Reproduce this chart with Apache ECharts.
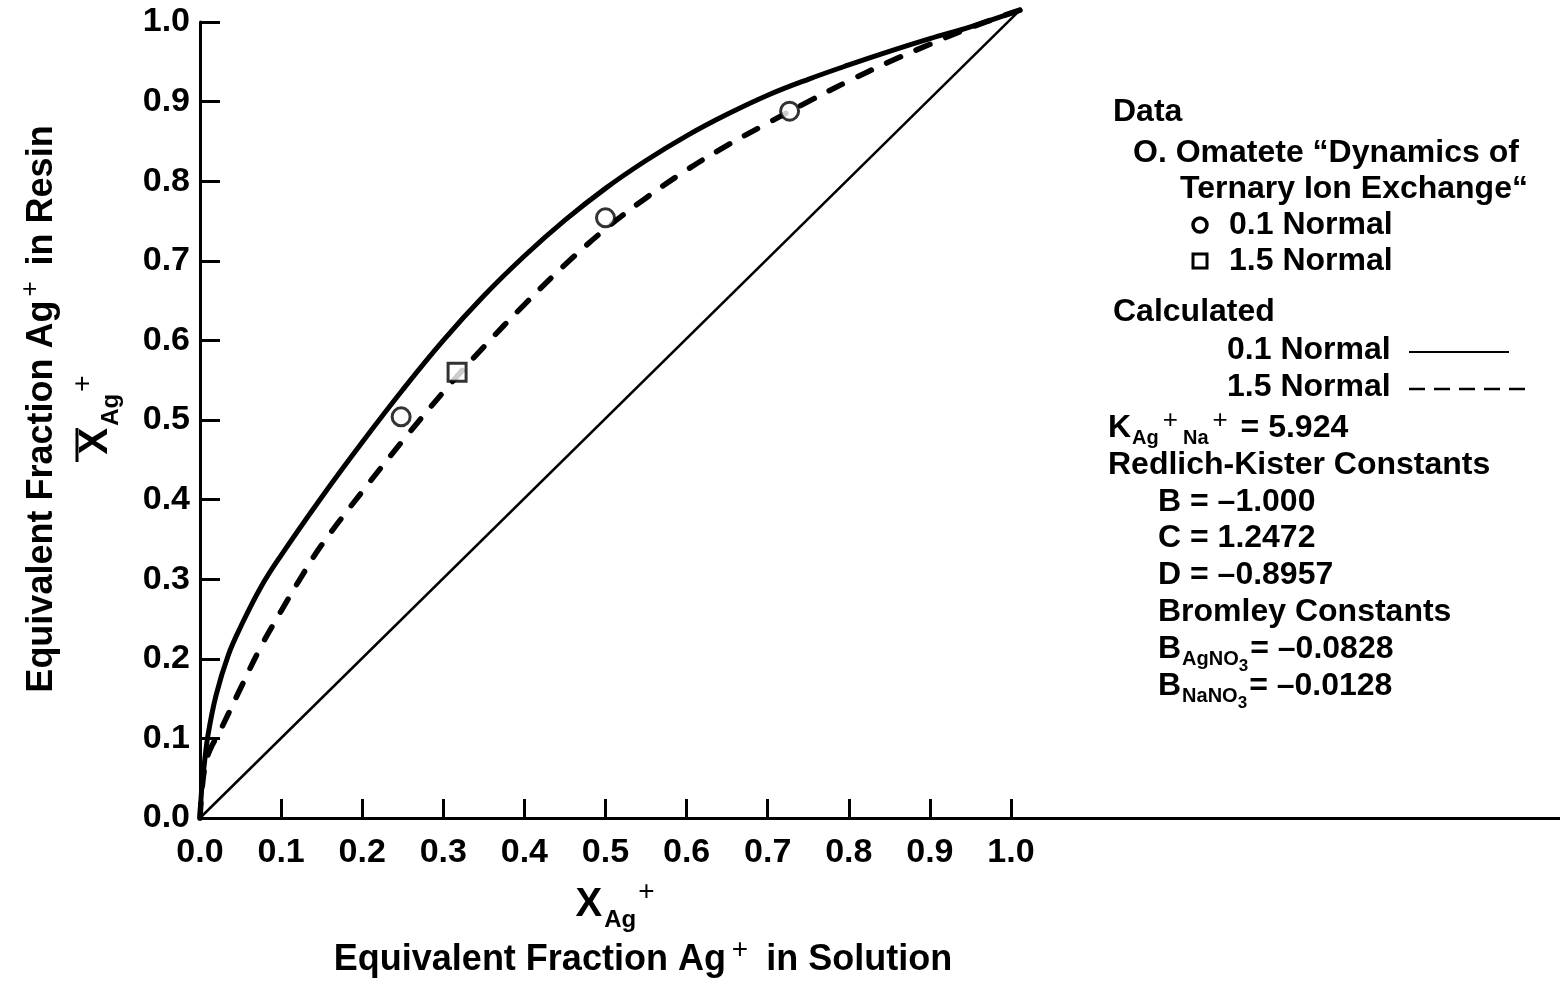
<!DOCTYPE html>
<html><head><meta charset="utf-8">
<script src="https://cdn.jsdelivr.net/npm/echarts@6/dist/echarts.min.js"></script>
<style>html,body{margin:0;padding:0;background:#fff}#c{width:1560px;height:983px}</style>
</head><body><div id="c"></div>
<script>
// ---- data ----
const xTickValues = [0.1,0.2,0.3,0.4,0.5,0.6,0.7,0.8,0.9,1.0];
const xLabelValues = [0.0,0.1,0.2,0.3,0.4,0.5,0.6,0.7,0.8,0.9,1.0];
const yTickValues = [0.1,0.2,0.3,0.4,0.5,0.6,0.7,0.8,0.9,1.0];

// Calculated 0.1 Normal (solid)
const solidX = [0, 0.002, 0.005, 0.010, 0.020, 0.035, 0.050, 0.075, 0.100, 0.150, 0.200, 0.250, 0.300, 0.350, 0.400, 0.450, 0.500, 0.550, 0.600, 0.650, 0.700, 0.750, 0.800, 0.850, 0.900, 0.950, 1.011];
const solidY = [0, 0.035, 0.065, 0.105, 0.155, 0.205, 0.240, 0.290, 0.330, 0.403, 0.472, 0.538, 0.600, 0.656, 0.706, 0.751, 0.791, 0.826, 0.857, 0.884, 0.908, 0.928, 0.946, 0.963, 0.979, 0.994, 1.015];
// Calculated 1.5 Normal (dashed)
const dashX = [0, 0.002, 0.006, 0.012, 0.025, 0.050, 0.075, 0.100, 0.125, 0.150, 0.200, 0.250, 0.300, 0.350, 0.400, 0.450, 0.500, 0.550, 0.600, 0.650, 0.700, 0.750, 0.800, 0.850, 0.900, 0.950, 1.011];
const dashY = [0, 0.030, 0.064, 0.085, 0.110, 0.163, 0.215, 0.260, 0.303, 0.343, 0.410, 0.474, 0.535, 0.592, 0.645, 0.695, 0.740, 0.779, 0.814, 0.845, 0.873, 0.900, 0.926, 0.950, 0.972, 0.993, 1.015];
// Diagonal reference
const diagX = [0, 1.011];
const diagY = [0, 1.015];
// Data, 0.1 Normal (circles)
const circleX = [0.248, 0.500, 0.727];
const circleY = [0.504, 0.754, 0.888];
// Data, 1.5 Normal (squares)
const squareX = [0.317];
const squareY = [0.560];

const zip = (a, b) => a.map((v, i) => [v, b[i]]);
const FF = "'Liberation Sans', Arial, Helvetica, sans-serif";

const chart = echarts.init(document.getElementById('c'), null, {renderer: 'canvas'});

const legendFont = {fontFamily: FF, fontWeight: 'bold', fontSize: 32, fill: '#000'};
function txt(x, y, text, extra) {
  return {type: 'text', x: x, y: y, style: Object.assign({}, legendFont, {text: text, verticalAlign: 'middle', align: 'left'}, extra || {})};
}
const richBase = {
  m: {fontFamily: FF, fontWeight: 'bold', fontSize: 32, lineHeight: 40, verticalAlign: 'middle', color: '#000'},
  sb: {fontFamily: FF, fontWeight: 'bold', fontSize: 20, verticalAlign: 'bottom', color: '#000', padding: [0, 0, 0, 1]},
  sb3: {fontFamily: FF, fontWeight: 'bold', fontSize: 17, verticalAlign: 'bottom', color: '#000', padding: [0, 2, -6, 0]},
  sp: {fontFamily: FF, fontWeight: 'normal', fontSize: 26, verticalAlign: 'top', color: '#000', padding: [0, 4, 0, 4]}
};

const option = {
  backgroundColor: '#fff',
  animation: false,
  grid: {left: 200, right: 0, top: 22, bottom: 165, containLabel: false},
  xAxis: {
    type: 'value', min: 0, max: 1360 / 811,
    axisLine: {show: true, lineStyle: {color: '#000', width: 3}},
    axisTick: {show: true, inside: true, length: 19, customValues: xTickValues, lineStyle: {color: '#000', width: 3}},
    axisLabel: {show: true, customValues: xLabelValues, margin: 18, color: '#000', fontFamily: FF, fontWeight: 'bold', fontSize: 34,
      formatter: v => Number(v).toFixed(1)},
    splitLine: {show: false}
  },
  yAxis: {
    type: 'value', min: 0, max: 1, interval: 0.1,
    axisLine: {show: true, lineStyle: {color: '#000', width: 3}},
    axisTick: {show: true, inside: true, length: 20, customValues: yTickValues, lineStyle: {color: '#000', width: 3}},
    axisLabel: {show: true, margin: 10, color: '#000', fontFamily: FF, fontWeight: 'bold', fontSize: 34,
      formatter: v => Number(v).toFixed(1)},
    splitLine: {show: false}
  },
  series: [
    {name: 'diag', type: 'line', data: zip(diagX, diagY), symbol: 'none', clip: false,
      lineStyle: {color: '#000', width: 2.5}},
    {name: '0.1 Normal calc', type: 'line', data: zip(solidX, solidY), symbol: 'none', smooth: 0.4, clip: false,
      lineStyle: {color: '#000', width: 5, cap: 'round', join: 'round'}},
    {name: '1.5 Normal calc', type: 'line', data: zip(dashX, dashY), symbol: 'none', smooth: 0.4, clip: false,
      lineStyle: {color: '#000', width: 5.5, type: [15, 17], cap: 'round', join: 'round'}},
    {name: '0.1 Normal data', type: 'scatter', data: zip(circleX, circleY), symbol: 'circle', symbolSize: 18, z: 5,
      itemStyle: {color: '#fff', borderColor: '#000', borderWidth: 3}},
    {name: '1.5 Normal data', type: 'scatter', data: zip(squareX, squareY), symbol: 'rect', symbolSize: 18, z: 5,
      itemStyle: {color: '#fff', borderColor: '#000', borderWidth: 3}}
  ],
  graphic: [
    // Y axis title
    {type: 'text', x: 42, y: 409, rotation: Math.PI / 2,
      style: {text: '{m|Equivalent Fraction Ag}{sp|+}{m| in Resin}', align: 'center', verticalAlign: 'middle',
        rich: {
          m: {fontFamily: FF, fontWeight: 'bold', fontSize: 36, lineHeight: 48, verticalAlign: 'middle', color: '#000'},
          sp: {fontFamily: FF, fontWeight: 'normal', fontSize: 26, verticalAlign: 'top', color: '#000', padding: [0, 6, 0, 4]}
        }}},
    {type: 'text', x: 96, y: 415, rotation: Math.PI / 2,
      style: {text: '{x|X}{sb|Ag}{sp|+}', align: 'center', verticalAlign: 'middle',
        rich: {
          x: {fontFamily: FF, fontWeight: 'bold', fontSize: 40, lineHeight: 54, verticalAlign: 'middle', color: '#000'},
          sb: {fontFamily: FF, fontWeight: 'bold', fontSize: 24, verticalAlign: 'bottom', color: '#000', padding: [0, 0, 0, 2]},
          sp: {fontFamily: FF, fontWeight: 'normal', fontSize: 28, verticalAlign: 'top', color: '#000', padding: [0, 0, 0, 2]}
        }}},
    {type: 'line', shape: {x1: 77, y1: 428, x2: 77, y2: 462}, style: {stroke: '#000', lineWidth: 3}},
    // X axis title
    {type: 'text', x: 615, y: 905,
      style: {text: '{x|X}{sb|Ag}{sp|+}', align: 'center', verticalAlign: 'middle',
        rich: {
          x: {fontFamily: FF, fontWeight: 'bold', fontSize: 40, lineHeight: 54, verticalAlign: 'middle', color: '#000'},
          sb: {fontFamily: FF, fontWeight: 'bold', fontSize: 24, verticalAlign: 'bottom', color: '#000', padding: [0, 0, 0, 2]},
          sp: {fontFamily: FF, fontWeight: 'normal', fontSize: 28, verticalAlign: 'top', color: '#000', padding: [0, 0, 0, 2]}
        }}},
    {type: 'text', x: 643, y: 960,
      style: {text: '{m|Equivalent Fraction Ag}{sp|+}{m| in Solution}', align: 'center', verticalAlign: 'middle',
        rich: {
          m: {fontFamily: FF, fontWeight: 'bold', fontSize: 36, lineHeight: 48, verticalAlign: 'middle', color: '#000'},
          sp: {fontFamily: FF, fontWeight: 'normal', fontSize: 28, verticalAlign: 'top', color: '#000', padding: [0, 8, 0, 6]}
        }}},
    // Legend block
    txt(1113, 112, 'Data'),
    txt(1133, 153, 'O. Omatete \u201CDynamics of'),
    txt(1180, 189, 'Ternary Ion Exchange\u201C'),
    {type: 'circle', shape: {cx: 1200, cy: 225, r: 7}, style: {fill: '#fff', stroke: '#000', lineWidth: 3.5}},
    txt(1229, 225, '0.1 Normal'),
    {type: 'rect', shape: {x: 1193, y: 254, width: 14, height: 14}, style: {fill: '#fff', stroke: '#000', lineWidth: 3}},
    txt(1229, 261, '1.5 Normal'),
    txt(1113, 312, 'Calculated'),
    txt(1227, 350, '0.1 Normal'),
    {type: 'line', shape: {x1: 1409, y1: 352, x2: 1509, y2: 352}, style: {stroke: '#000', lineWidth: 2}},
    txt(1227, 387, '1.5 Normal'),
    {type: 'line', shape: {x1: 1409, y1: 389, x2: 1527, y2: 389}, style: {stroke: '#000', lineWidth: 2.5, lineDash: [16, 9]}},
    {type: 'text', x: 1108, y: 428,
      style: {text: '{m|K}{sb|Ag}{sp|+}{sb|Na}{sp|+}{m| = 5.924}', align: 'left', verticalAlign: 'middle', rich: richBase}},
    txt(1108, 465, 'Redlich-Kister Constants'),
    txt(1158, 502, 'B = \u20131.000'),
    txt(1158, 538, 'C = 1.2472'),
    txt(1158, 575, 'D = \u20130.8957'),
    txt(1158, 612, 'Bromley Constants'),
    {type: 'text', x: 1158, y: 649,
      style: {text: '{m|B}{sb|AgNO}{sb3|3}{m|= \u20130.0828}', align: 'left', verticalAlign: 'middle', rich: richBase}},
    {type: 'text', x: 1158, y: 686,
      style: {text: '{m|B}{sb|NaNO}{sb3|3}{m|= \u20130.0128}', align: 'left', verticalAlign: 'middle', rich: richBase}}
  ]
};
chart.setOption(option);
</script>
</body></html>
